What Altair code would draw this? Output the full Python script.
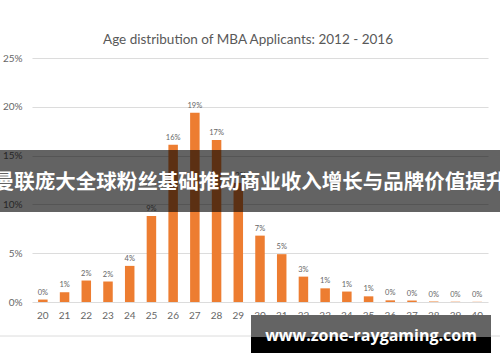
import altair as alt
import pandas as pd

ages = [str(a) for a in range(20, 41)]
shares = [0.0025, 0.010, 0.022, 0.021, 0.037, 0.088, 0.161, 0.194, 0.166, 0.122,
          0.068, 0.049, 0.026, 0.014, 0.0107, 0.0058, 0.0017, 0.0015, 0.0005, 0.0003, 0.0002]
title_text = "Age distribution of MBA Applicants: 2012 - 2016"
banner_text = "曼联庞大全球粉丝基础推动商业收入增长与品牌价值提升"
watermark_text = "www.zone-raygaming.com"
y_ticks = [0, 0.05, 0.10, 0.15, 0.20, 0.25]

df = pd.DataFrame({"age": ages, "share": shares})
one = pd.DataFrame({"k": [0]})
FONT = "Lato"
GRAY = "#666666"

x_enc = alt.X("age:N", sort=ages, title=None,
              scale=alt.Scale(paddingInner=0, paddingOuter=0),
              axis=alt.Axis(labelAngle=0, ticks=False, domain=False, labelFont=FONT,
                            labelFontSize=10, labelColor=GRAY, labelPadding=8))
y_enc = alt.Y("share:Q", title=None,
              scale=alt.Scale(domain=[0, 0.25], nice=False),
              axis=alt.Axis(values=y_ticks, format=".0%", ticks=False, domain=False,
                            labelFont=FONT, labelFontSize=10, labelColor=GRAY,
                            labelPadding=10, gridColor="#dcdcdc", gridWidth=1.2))

bars = alt.Chart(df).mark_bar(size=9.5, color="#ED7D31").encode(x=x_enc, y=y_enc)
labels = alt.Chart(df).mark_text(font=FONT, fontSize=7.5, color=GRAY, dy=-7).encode(
    x=alt.X("age:N", sort=ages), y="share:Q", text=alt.Text("share:Q", format=".0%"))

title = alt.Chart(one).mark_text(text=title_text, font=FONT, fontSize=13.5, color="#595959",
                                 baseline="middle", align="center").encode(
    x=alt.value(216), y=alt.value(-18))

banner = alt.Chart(one).mark_rect(color="#000000", opacity=0.61).encode(
    x=alt.value(-32), x2=alt.value(468), y=alt.value(92), y2=alt.value(154))
banner_t = alt.Chart(one).mark_text(text=banner_text, font="Noto Sans CJK SC", fontWeight="bold",
                                    fontSize=20.5, color="white", baseline="middle",
                                    align="center").encode(x=alt.value(218), y=alt.value(125))

border = alt.Chart(one).mark_rule(color="#dcdcdc", strokeWidth=1).encode(
    x=alt.value(-32), x2=alt.value(468), y=alt.value(278))

wm_top = alt.Chart(one).mark_rect(color="#646464").encode(
    x=alt.value(219), x2=alt.value(459), y=alt.value(257), y2=alt.value(279))
wm_bot = alt.Chart(one).mark_rect(color="#000000").encode(
    x=alt.value(219), x2=alt.value(459), y=alt.value(279), y2=alt.value(295))
wm_t = alt.Chart(one).mark_text(text=watermark_text, font="Open Sans", fontWeight="bold",
                                fontSize=16, color="white", baseline="middle",
                                align="center").encode(x=alt.value(339), y=alt.value(278))

chart = alt.layer(bars, labels, title, banner, banner_t, border, wm_top, wm_bot, wm_t).properties(
    width=456, height=244, autosize="none",
    padding={"left": 32, "top": 58, "right": 12, "bottom": 60},
    background="white"
).configure_view(stroke=None)

chart.save("out.html", embed_options={"renderer": "svg", "actions": False})
